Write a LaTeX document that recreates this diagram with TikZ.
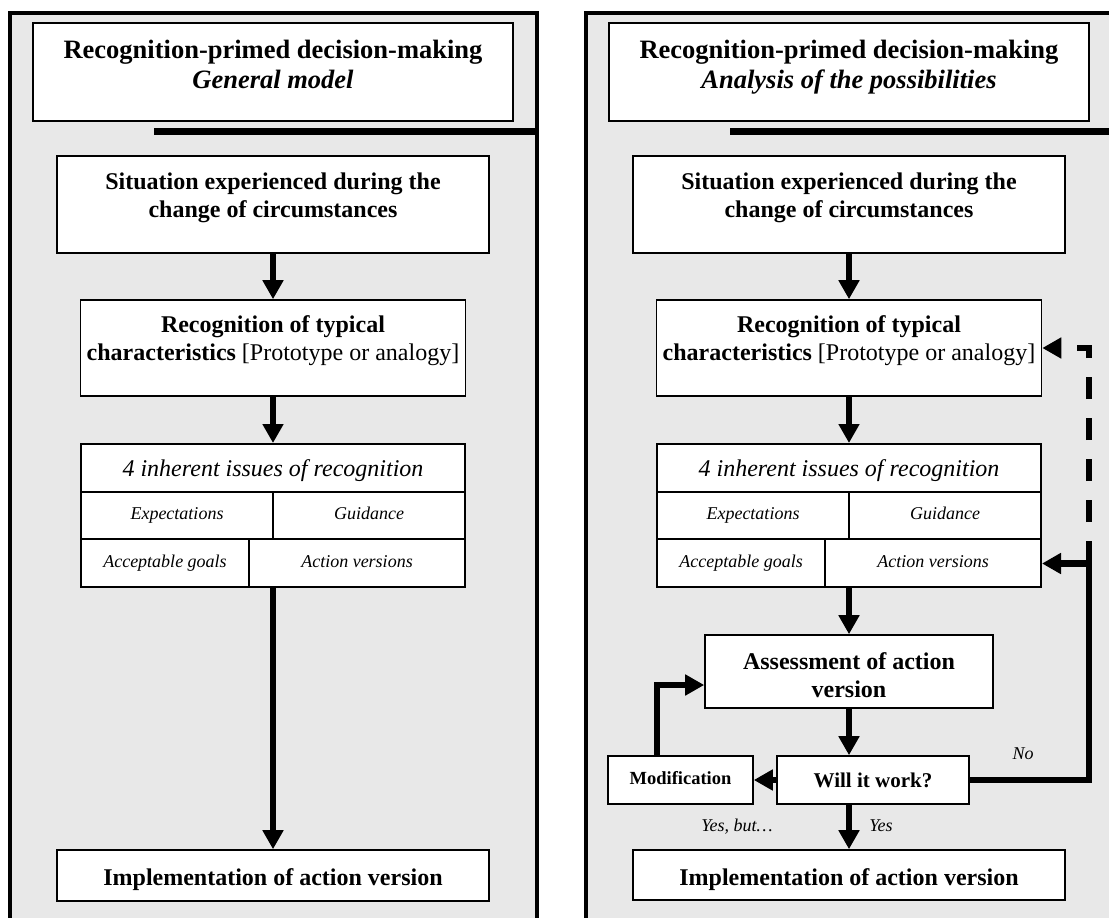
\documentclass[tikz,border=0pt]{standalone}
\usepackage{fontspec}
\setmainfont{Liberation Serif}
\usetikzlibrary{arrows.meta}
\definecolor{panelgray}{RGB}{232,232,232}

\newcommand\titlefont{\fontsize{26.5}{30}\selectfont\bfseries}
\newcommand\bodyfont{\fontsize{24}{28}\selectfont\bfseries}
\newcommand\headfont{\fontsize{24}{28}\selectfont\itshape}
\newcommand\cellfont{\fontsize{18}{21}\selectfont\itshape}
\newcommand\smallbold{\fontsize{18.5}{21}\selectfont\bfseries}
\newcommand\firstline{\rule{0pt}{20pt}}

\tikzset{
  panel/.style={draw=black, line width=4pt, fill=panelgray},
  box/.style={draw=black, line width=1.6pt, fill=white, rectangle, inner sep=0pt},
  tablebox/.style={draw=black, line width=2pt, fill=white, rectangle, inner sep=0pt},
  cellrule/.style={draw=black, line width=2pt},
  blocktext/.style={inner sep=0pt, align=center, anchor=north},
  linetext/.style={inner sep=0pt, anchor=base},
  flow/.style={line width=6.5pt, -{Triangle[length=19pt, width=20pt]}},
  feed/.style={line width=6.5pt},
  dashfeed/.style={line width=6.5pt, dash pattern=on 22pt off 19pt, dash phase=22pt,
                   -{Triangle[length=19pt, width=20pt]}},
  thickbar/.style={fill=black},
}

\begin{document}
\begin{tikzpicture}[x=1pt, y=-1pt]
\useasboundingbox (0,0) rectangle (1109,918);
\clip (0,0) rectangle (1109,918);

% ---------- left panel: general model ----------
\draw[panel] (9.5,12.5) rectangle (537,960);
\node[box, minimum width=480.5pt, minimum height=98pt] (ltitle) at (273,72) {};
\node[blocktext, font=\titlefont] (ltitletxt) at (273,38)
  {\firstline Recognition-primed decision-making\\{\itshape General model}};
\fill[thickbar] (153.5,128) rectangle (537,135);

\node[box, minimum width=432.5pt, minimum height=97pt] (lsit) at (273,204.5) {};
\node[blocktext, font=\bodyfont] (lsittxt) at (273,169)
  {\firstline Situation experienced during the\\change of circumstances};

\node[box, minimum width=385pt, minimum height=96pt] (lrec) at (273,348) {};
\node[blocktext, font=\bodyfont] (lrectxt) at (273,312)
  {\firstline Recognition of typical\\characteristics {\mdseries [Prototype or analogy]}};

\node[tablebox, minimum width=384pt, minimum height=143pt] (ltab) at (273,515.5) {};
\draw[cellrule] (81,492) -- (465,492);
\draw[cellrule] (81,539) -- (465,539);
\draw[cellrule] (273,492) -- (273,539);
\draw[cellrule] (249,539) -- (249,587);
\node[linetext, font=\headfont] (lhead) at (273,476) {4 inherent issues of recognition};
\node[linetext, font=\cellfont] (lexp) at (177,519) {Expectations};
\node[linetext, font=\cellfont] (lgui) at (369,519) {Guidance};
\node[linetext, font=\cellfont] (lgoal) at (165,567) {Acceptable goals};
\node[linetext, font=\cellfont] (lact) at (357,567) {Action versions};

\node[box, minimum width=432.5pt, minimum height=51pt] (limp) at (273,875.5) {};
\node[linetext, font=\bodyfont] (limptxt) at (273,885) {Implementation of action version};

\draw[flow] (lsit.south) -- (lrec.north);
\draw[flow] (lrec.south) -- (ltab.north);
\draw[flow] (ltab.south) -- (limp.north);

% ---------- right panel: analysis of the possibilities ----------
\begin{scope}[xshift=576pt]
\draw[panel] (9.5,12.5) rectangle (537,960);
\node[box, minimum width=480.5pt, minimum height=98pt] (rtitle) at (273,72) {};
\node[blocktext, font=\titlefont] (rtitletxt) at (273,38)
  {\firstline Recognition-primed decision-making\\{\itshape Analysis of the possibilities}};
\fill[thickbar] (153.5,128) rectangle (537,135);

\node[box, minimum width=432.5pt, minimum height=97pt] (rsit) at (273,204.5) {};
\node[blocktext, font=\bodyfont] (rsittxt) at (273,169)
  {\firstline Situation experienced during the\\change of circumstances};

\node[box, minimum width=385pt, minimum height=96pt] (rrec) at (273,348) {};
\node[blocktext, font=\bodyfont] (rrectxt) at (273,312)
  {\firstline Recognition of typical\\characteristics {\mdseries [Prototype or analogy]}};

\node[tablebox, minimum width=384pt, minimum height=143pt] (rtab) at (273,515.5) {};
\draw[cellrule] (81,492) -- (465,492);
\draw[cellrule] (81,539) -- (465,539);
\draw[cellrule] (273,492) -- (273,539);
\draw[cellrule] (249,539) -- (249,587);
\node[linetext, font=\headfont] (rhead) at (273,476) {4 inherent issues of recognition};
\node[linetext, font=\cellfont] (rexp) at (177,519) {Expectations};
\node[linetext, font=\cellfont] (rgui) at (369,519) {Guidance};
\node[linetext, font=\cellfont] (rgoal) at (165,567) {Acceptable goals};
\node[linetext, font=\cellfont] (ract) at (357,567) {Action versions};

\node[box, minimum width=288pt, minimum height=73pt] (rassess) at (273,671.5) {};
\node[blocktext, font=\bodyfont] (rassesstxt) at (273,649)
  {\firstline Assessment of action\\version};

\node[box, minimum width=192pt, minimum height=48pt] (rwill) at (297,780) {};
\node[linetext, font=\fontsize{21}{24}\selectfont\bfseries] (rwilltxt) at (297,787) {Will it work?};

\node[box, minimum width=145pt, minimum height=48pt] (rmod) at (104.5,780) {};
\node[linetext, font=\smallbold] (rmodtxt) at (104.5,784) {Modification};

\node[box, minimum width=432pt, minimum height=50pt] (rimp) at (273,875) {};
\node[linetext, font=\bodyfont] (rimptxt) at (273,885) {Implementation of action version};

\node[linetext, font=\cellfont] (lblno) at (447,759) {No};
\node[linetext, font=\cellfont] (lblyesbut) at (161,831) {Yes, but\dots};
\node[linetext, font=\cellfont] (lblyes) at (305,831) {Yes};

\coordinate (mbend) at (81,685);
\coordinate (fbA) at (513,563.5);
\coordinate (fbB) at (513,541);

\draw[flow] (rsit.south) -- (rrec.north);
\draw[flow] (rrec.south) -- (rtab.north);
\draw[flow] (rtab.south) -- (rassess.north);
\draw[flow] (rassess.south) -- (rassess.south |- rwill.north);
\draw[flow] (rwill.south -| rassess.south) -- (rimp.north);
\draw[flow] (rwill.west) -- (rmod.east);
\draw[flow] (rmod.north -| mbend) -- (mbend) -- (mbend -| rassess.west);
\draw[flow] (rwill.east) -| (fbA) -- (fbA -| rtab.east);
\draw[feed] ([yshift=-3pt]fbA) -- (fbB);
\draw[dashfeed] (fbB) |- (rrec.east);
\end{scope}
\end{tikzpicture}
\end{document}
